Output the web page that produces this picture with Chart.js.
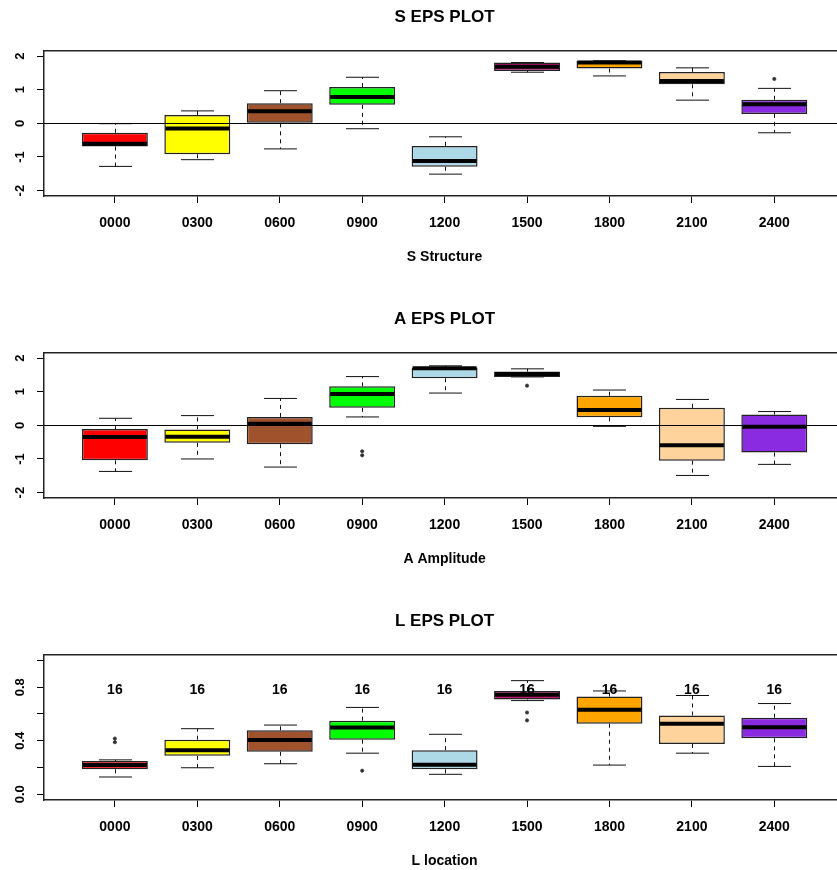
<!DOCTYPE html>
<html>
<head>
<meta charset="utf-8">
<script src="https://cdn.jsdelivr.net/npm/chart.js@4.4.1/dist/chart.umd.min.js"></script>
<style>
  body { margin: 0; background: #fff; }
  #wrap { position: relative; width: 837px; height: 870px; overflow: hidden; background: #fff; }
  .panel { position: absolute; left: 0; }
</style>
</head>
<body>
<div id="wrap">
  <canvas id="chartS" class="panel" style="top:0px" width="850" height="302"></canvas>
  <canvas id="chartA" class="panel" style="top:302px" width="850" height="302"></canvas>
  <canvas id="chartL" class="panel" style="top:604px" width="850" height="302"></canvas>
</div>
<script>
const hours = ['0000', '0300', '0600', '0900', '1200', '1500', '1800', '2100', '2400'];
const boxColors = ['#FF0000', '#FFFF00', '#A0522D', '#00FF00', '#ADD8E6', '#CD1076', '#FFA500', '#FFD39B', '#8A2BE2'];

// S Structure
const sLow = [-1.28, -1.08, -0.76, -0.16, -1.51, 1.52, 1.41, 0.69, -0.28];
const sQ1 = [-0.69, -0.92, 0.0, 0.55, -1.29, 1.56, 1.63, 1.16, 0.28];
const sMed = [-0.61, -0.15, 0.36, 0.78, -1.12, 1.68, 1.81, 1.26, 0.57];
const sQ3 = [-0.28, 0.25, 0.6, 1.08, -0.67, 1.81, 1.86, 1.53, 0.7];
const sHigh = [-0.01, 0.37, 0.97, 1.37, -0.4, 1.81, 1.86, 1.65, 1.04];
const sOut = [[], [], [], [], [], [], [], [], [1.32]];

// A Amplitude
const aLow = [-1.37, -1.0, -1.24, 0.25, 0.96, 1.44, -0.03, -1.49, -1.16];
const aQ1 = [-1.04, -0.52, -0.56, 0.52, 1.4, 1.44, 0.24, -1.05, -0.81];
const aMed = [-0.35, -0.34, 0.05, 0.93, 1.7, 1.53, 0.46, -0.59, -0.04];
const aQ3 = [-0.11, -0.12, 0.25, 1.16, 1.72, 1.6, 0.88, 0.52, 0.32];
const aHigh = [0.21, 0.29, 0.8, 1.45, 1.77, 1.68, 1.05, 0.77, 0.41];
const aOut = [[], [], [], [-0.77, -0.89], [], [1.18], [], [], []];

// L location
const lLow = [0.129, 0.198, 0.228, 0.307, 0.149, 0.7, 0.218, 0.307, 0.208];
const lQ1 = [0.186, 0.287, 0.317, 0.408, 0.186, 0.708, 0.527, 0.376, 0.418];
const lMed = [0.218, 0.329, 0.406, 0.498, 0.22, 0.743, 0.631, 0.527, 0.5];
const lQ3 = [0.248, 0.408, 0.478, 0.55, 0.329, 0.772, 0.73, 0.589, 0.572];
const lHigh = [0.257, 0.49, 0.517, 0.649, 0.448, 0.849, 0.772, 0.738, 0.678];
const lOut = [[0.416, 0.389], [], [], [0.176], [], [0.611, 0.552], [], [], []];
const lCounts = [16, 16, 16, 16, 16, 16, 16, 16, 16];

const epsTicks = [-2, -1, 0, 1, 2];
const epsLabels = ['-2', '-1', '0', '1', '2'];
const locTicks = [0, 0.2, 0.4, 0.6, 0.8, 1.0];
const locLabels = ['0.0', '', '0.4', '', '0.8', ''];

Chart.defaults.font.family = "'Liberation Sans', Arial, sans-serif";
Chart.defaults.color = '#000';

// whiskers, medians, zero line and counts drawn with the chart scales
function boxPlugin(st) {
  return {
    id: 'boxExtras',
    beforeDatasetsDraw(chart) {
      const { ctx, scales: { x, y } } = chart;
      const cap = (x.getPixelForValue(2) - x.getPixelForValue(1)) * 0.2;
      ctx.save();
      ctx.strokeStyle = '#111';
      ctx.lineWidth = 1;
      st.low.forEach((lo, i) => {
        const px = Math.round(x.getPixelForValue(i + 1)) + 0.5;
        const yLo = y.getPixelForValue(lo);
        const yHi = y.getPixelForValue(st.high[i]);
        ctx.setLineDash([4, 4]);
        ctx.beginPath();
        ctx.moveTo(px, y.getPixelForValue(st.q1[i]));
        ctx.lineTo(px, yLo);
        ctx.moveTo(px, y.getPixelForValue(st.q3[i]));
        ctx.lineTo(px, yHi);
        ctx.stroke();
        ctx.setLineDash([]);
        ctx.beginPath();
        ctx.moveTo(px - cap, yLo);
        ctx.lineTo(px + cap, yLo);
        ctx.moveTo(px - cap, yHi);
        ctx.lineTo(px + cap, yHi);
        ctx.stroke();
      });
      ctx.restore();
    },
    afterDatasetsDraw(chart) {
      const { ctx, chartArea, scales: { x, y } } = chart;
      const half = (x.getPixelForValue(2) - x.getPixelForValue(1)) * 0.4;
      ctx.save();
      ctx.strokeStyle = '#000';
      ctx.lineWidth = 4;
      st.med.forEach((m, i) => {
        const px = x.getPixelForValue(i + 1);
        const py = y.getPixelForValue(m);
        ctx.beginPath();
        ctx.moveTo(px - half + 1, py);
        ctx.lineTo(px + half - 1, py);
        ctx.stroke();
      });
      if (st.zeroLine) {
        const y0 = Math.round(y.getPixelForValue(0)) + 0.5;
        ctx.lineWidth = 1.2;
        ctx.beginPath();
        ctx.moveTo(chartArea.left, y0);
        ctx.lineTo(chartArea.right, y0);
        ctx.stroke();
      }
      if (st.counts) {
        ctx.fillStyle = '#000';
        ctx.font = "bold 14px 'Liberation Sans', Arial, sans-serif";
        ctx.textAlign = 'center';
        ctx.textBaseline = 'middle';
        st.counts.forEach((c, i) => {
          ctx.fillText(String(c), x.getPixelForValue(i + 1), y.getPixelForValue(st.countAt));
        });
      }
      // top edge of the plot frame
      ctx.strokeStyle = '#222';
      ctx.lineWidth = 1.5;
      ctx.beginPath();
      ctx.moveTo(chartArea.left, chartArea.top);
      ctx.lineTo(chartArea.right, chartArea.top);
      ctx.lineTo(chartArea.right, chartArea.bottom);
      ctx.stroke();
      ctx.restore();
    },
  };
}

function drawPanel(id, title, axisTitle, st, yMin, yMax, yTicks, yLabels, yPad) {
  const boxes = hours.map((h, i) => ({ x: i + 1, y: [st.q1[i], st.q3[i]] }));
  const outliers = [];
  st.out.forEach((list, i) => list.forEach((v) => outliers.push({ x: i + 1, y: v })));

  return new Chart(document.getElementById(id), {
    type: 'bar',
    data: {
      datasets: [
        {
          type: 'scatter',
          data: outliers,
          pointRadius: 1.6,
          pointBackgroundColor: '#333',
          pointBorderColor: '#333',
          pointBorderWidth: 0.8,
        },
        {
          type: 'bar',
          data: boxes,
          backgroundColor: boxColors,
          borderColor: '#222',
          borderWidth: 1.5,
          borderSkipped: false,
          barPercentage: 0.8,
          categoryPercentage: 1.0,
        },
      ],
    },
    options: {
      responsive: false,
      animation: false,
      layout: { padding: { left: 0, right: 4, top: 0, bottom: 0 } },
      plugins: {
        legend: { display: false },
        tooltip: { enabled: false },
        title: {
          display: true,
          text: title,
          fullSize: false,
          color: '#000',
          font: { size: 17, weight: 'bold' },
          padding: { top: 6.8, bottom: 23.5 },
        },
      },
      scales: {
        x: {
          type: 'linear',
          min: 0.14,
          max: 9.86,
          offset: false,
          afterFit: (axis) => { axis.height = 106; },
          afterBuildTicks: (axis) => { axis.ticks = hours.map((h, i) => ({ value: i + 1 })); },
          grid: { offset: false, drawOnChartArea: false, tickLength: 7, tickColor: '#000' },
          border: { color: '#222', width: 1.5 },
          ticks: {
            autoSkip: false,
            maxRotation: 0,
            padding: 11.3,
            color: '#000',
            font: { size: 14, weight: 'bold' },
            callback: (v) => hours[Math.round(v) - 1],
          },
          title: {
            display: true,
            text: axisTitle,
            color: '#000',
            font: { size: 14, weight: 'bold' },
            padding: { top: 0, bottom: 36.6 },
          },
        },
        y: {
          min: yMin,
          max: yMax,
          afterFit: (axis) => { axis.width = 44; },
          afterBuildTicks: (axis) => { axis.ticks = yTicks.map((v) => ({ value: v })); },
          grid: { drawOnChartArea: false, tickLength: 7, tickColor: '#000' },
          border: { color: '#222', width: 1.5 },
          ticks: {
            autoSkip: false,
            minRotation: 90,
            maxRotation: 90,
            crossAlign: 'center',
            padding: yPad,
            color: '#000',
            font: { size: 13, weight: 'bold' },
            callback: (v, i) => yLabels[i],
          },
        },
      },
    },
    plugins: [boxPlugin(st)],
  });
}

drawPanel('chartS', 'S EPS PLOT', 'S Structure',
  { low: sLow, q1: sQ1, med: sMed, q3: sQ3, high: sHigh, out: sOut, zeroLine: true },
  -2.16, 2.16, epsTicks, epsLabels, 11.2);

drawPanel('chartA', 'A EPS PLOT', 'A Amplitude',
  { low: aLow, q1: aQ1, med: aMed, q3: aQ3, high: aHigh, out: aOut, zeroLine: true },
  -2.16, 2.16, epsTicks, epsLabels, 11.2);

drawPanel('chartL', 'L EPS PLOT', 'L location',
  { low: lLow, q1: lQ1, med: lMed, q3: lQ3, high: lHigh, out: lOut, counts: lCounts, countAt: 0.78 },
  -0.043, 1.043, locTicks, locLabels, 8);
</script>
</body>
</html>
